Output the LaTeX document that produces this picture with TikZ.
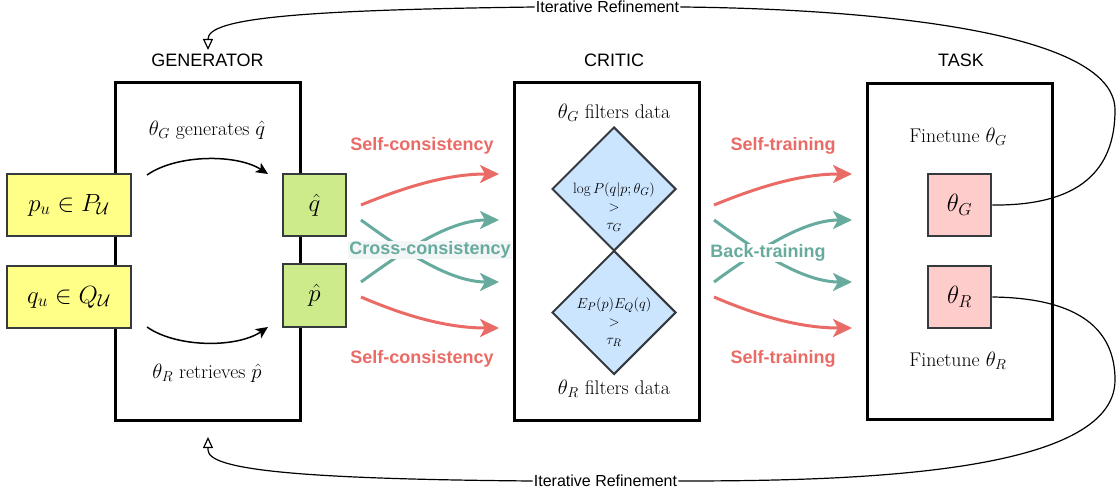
\documentclass[tikz,border=0pt]{standalone}
\usepackage{fontspec}
\setsansfont{Liberation Sans}
\usetikzlibrary{arrows.meta,shapes.geometric}
\definecolor{ylw}{HTML}{FFFF88}
\definecolor{grn}{HTML}{CDEB8B}
\definecolor{pnk}{HTML}{FFCCCC}
\definecolor{blu}{HTML}{CCE5FF}
\definecolor{edg}{HTML}{36393D}
\definecolor{redc}{HTML}{EA6B66}
\definecolor{tealc}{HTML}{67AB9F}
\definecolor{lbg}{HTML}{F3F6F6}
\begin{document}
\begin{tikzpicture}[x=1pt,y=-1pt,
  bigbox/.style={draw=black,line width=3pt,inner sep=0pt},
  smallbox/.style={draw=edg,line width=2.5pt,inner sep=0pt,font=\fontsize{23}{27}\selectfont},
  dia/.style={diamond,draw=edg,fill=blu,line width=2pt,inner sep=0pt,minimum width=124pt,minimum height=124pt},
  header/.style={font=\sffamily\fontsize{18}{21}\selectfont},
  mtext/.style={font=\fontsize{19.8}{23}\selectfont},
  dtext/.style={font=\fontsize{15}{19}\selectfont,align=center},
  clabel/.style={font=\sffamily\bfseries\fontsize{18}{21}\selectfont,inner sep=1pt},
  blk/.style={line width=1.5pt,-{Stealth[length=12pt,width=11pt,inset=3pt]}},
  colarr/.style={line width=3pt,-{Stealth[length=19pt,width=18pt,inset=5pt]}},
  irlabel/.style={font=\sffamily\fontsize{16}{19}\selectfont,fill=white,inner sep=1pt},
  irline/.style={line width=1.2pt},
  irarrow/.style={line width=1.2pt,-{Triangle[open,length=11pt,width=10pt,line width=1.2pt]}}
]
\useasboundingbox (0,0) rectangle (1118,495);

% main boxes
\node[bigbox,minimum width=185pt,minimum height=338pt] (gen) at (207.5,251) {};
\node[bigbox,minimum width=185pt,minimum height=338pt] (crit) at (606.5,251) {};
\node[bigbox,minimum width=185pt,minimum height=336pt] (task) at (959.5,251) {};

% headers
\node[header] (hgen) at (207.5,60) {GENERATOR};
\node[header] (hcrit) at (614,60) {CRITIC};
\node[header] (htask) at (961,60) {TASK};

% generator contents
\node[smallbox,fill=ylw,minimum width=124pt,minimum height=62pt] (pu) at (69,205) {$p_u\in P_{\mathcal{U}}$};
\node[smallbox,fill=ylw,minimum width=124pt,minimum height=62pt] (qu) at (69,297) {$q_u\in Q_{\mathcal{U}}$};
\node[smallbox,fill=grn,minimum width=63pt,minimum height=62pt] (qh) at (314.5,205) {$\hat{q}$};
\node[smallbox,fill=grn,minimum width=63pt,minimum height=63pt] (ph) at (314.5,295.5) {$\hat{p}$};
\node[mtext] (tgen) at (207,130) {$\theta_G$ generates $\hat{q}$};
\node[mtext] (tret) at (207,373) {$\theta_R$ retrieves $\hat{p}$};
\coordinate (a1s) at (147,175);
\coordinate (a1e) at (268,174);
\coordinate (a2s) at (147,327);
\coordinate (a2e) at (268,327);
\draw[blk] (a1s) .. controls (177,154) and (237,154) .. (a1e);
\draw[blk] (a2s) .. controls (177,348) and (237,348) .. (a2e);

% critic contents
\node[mtext] (tcg) at (614,113) {$\theta_G$ filters data};
\node[mtext] (tcr) at (614,389) {$\theta_R$ filters data};
\node[dia] (d1) at (614,189) {};
\node[dia] (d2) at (614,312.5) {};
\node[dtext] (d1t) at (614,207) {$\log P(q|p;\theta_G)$\\[-1pt]$>$\\[-1pt]$\tau_G$};
\node[dtext] (d2t) at (614,322) {$E_P(p)E_Q(q)$\\[-1pt]$>$\\[-1pt]$\tau_R$};

% task contents
\node[mtext] (tfg) at (958,137) {Finetune $\theta_G$};
\node[mtext] (tfr) at (958,361) {Finetune $\theta_R$};
\node[smallbox,fill=pnk,minimum width=63pt,minimum height=62pt] (thG) at (959.5,205) {$\theta_G$};
\node[smallbox,fill=pnk,minimum width=63pt,minimum height=62pt] (thR) at (959.5,297) {$\theta_R$};

% left coloured arrows
\coordinate (l1s) at (361,205); \coordinate (l1e) at (499,174);
\coordinate (l2s) at (361,220); \coordinate (l2e) at (499,282);
\coordinate (l3s) at (361,282); \coordinate (l3e) at (499,220);
\coordinate (l4s) at (361,297); \coordinate (l4e) at (499,328);
\draw[colarr,redc] (l1s) .. controls (410,185) and (450,174) .. (l1e);
\draw[colarr,tealc] (l2s) .. controls (405,252) and (450,282) .. (l2e);
\draw[colarr,tealc] (l3s) .. controls (405,250) and (450,220) .. (l3e);
\draw[colarr,redc] (l4s) .. controls (410,318) and (450,328) .. (l4e);
\node[clabel,text=redc] (sc1) at (422,146) {Self-consistency};
\node[clabel,text=redc] (sc2) at (422,359) {Self-consistency};
\node[clabel,text=tealc,fill=lbg] (cc) at (430,250) {Cross-consistency};

% right coloured arrows
\coordinate (r1s) at (714,205); \coordinate (r1e) at (852,174);
\coordinate (r2s) at (714,220); \coordinate (r2e) at (852,282);
\coordinate (r3s) at (714,282); \coordinate (r3e) at (852,220);
\coordinate (r4s) at (714,297); \coordinate (r4e) at (852,328);
\draw[colarr,redc] (r1s) .. controls (763,185) and (803,174) .. (r1e);
\draw[colarr,tealc] (r2s) .. controls (758,252) and (803,282) .. (r2e);
\draw[colarr,tealc] (r3s) .. controls (758,250) and (803,220) .. (r3e);
\draw[colarr,redc] (r4s) .. controls (763,318) and (803,328) .. (r4e);
\node[clabel,text=redc] (st1) at (783,146) {Self-training};
\node[clabel,text=redc] (st2) at (783,359) {Self-training};
\node[clabel,text=tealc,fill=white] (bt) at (768,253) {Back-training};

% iterative refinement
\node[irlabel] (irtop) at (607.5,7) {Iterative Refinement};
\node[irlabel] (irbot) at (605.5,481) {Iterative Refinement};
\coordinate (gtop) at (208,50);
\coordinate (gbot) at (208,437);
\draw[irline] (thG.east) .. controls (1080,206) and (1115,170) .. (1115,110)
  .. controls (1115,20) and (800,8) .. (irtop.east);
\draw[irarrow] (irtop.west) .. controls (300,10) and (208,18) .. (208,39) -- (gtop);
\draw[irline] (thR.east) .. controls (1080,298) and (1115,330) .. (1115,380)
  .. controls (1115,475) and (850,481) .. (irbot.east);
\draw[irarrow] (irbot.west) .. controls (300,479) and (208,470) .. (208,450) -- (gbot);
\end{tikzpicture}
\end{document}
